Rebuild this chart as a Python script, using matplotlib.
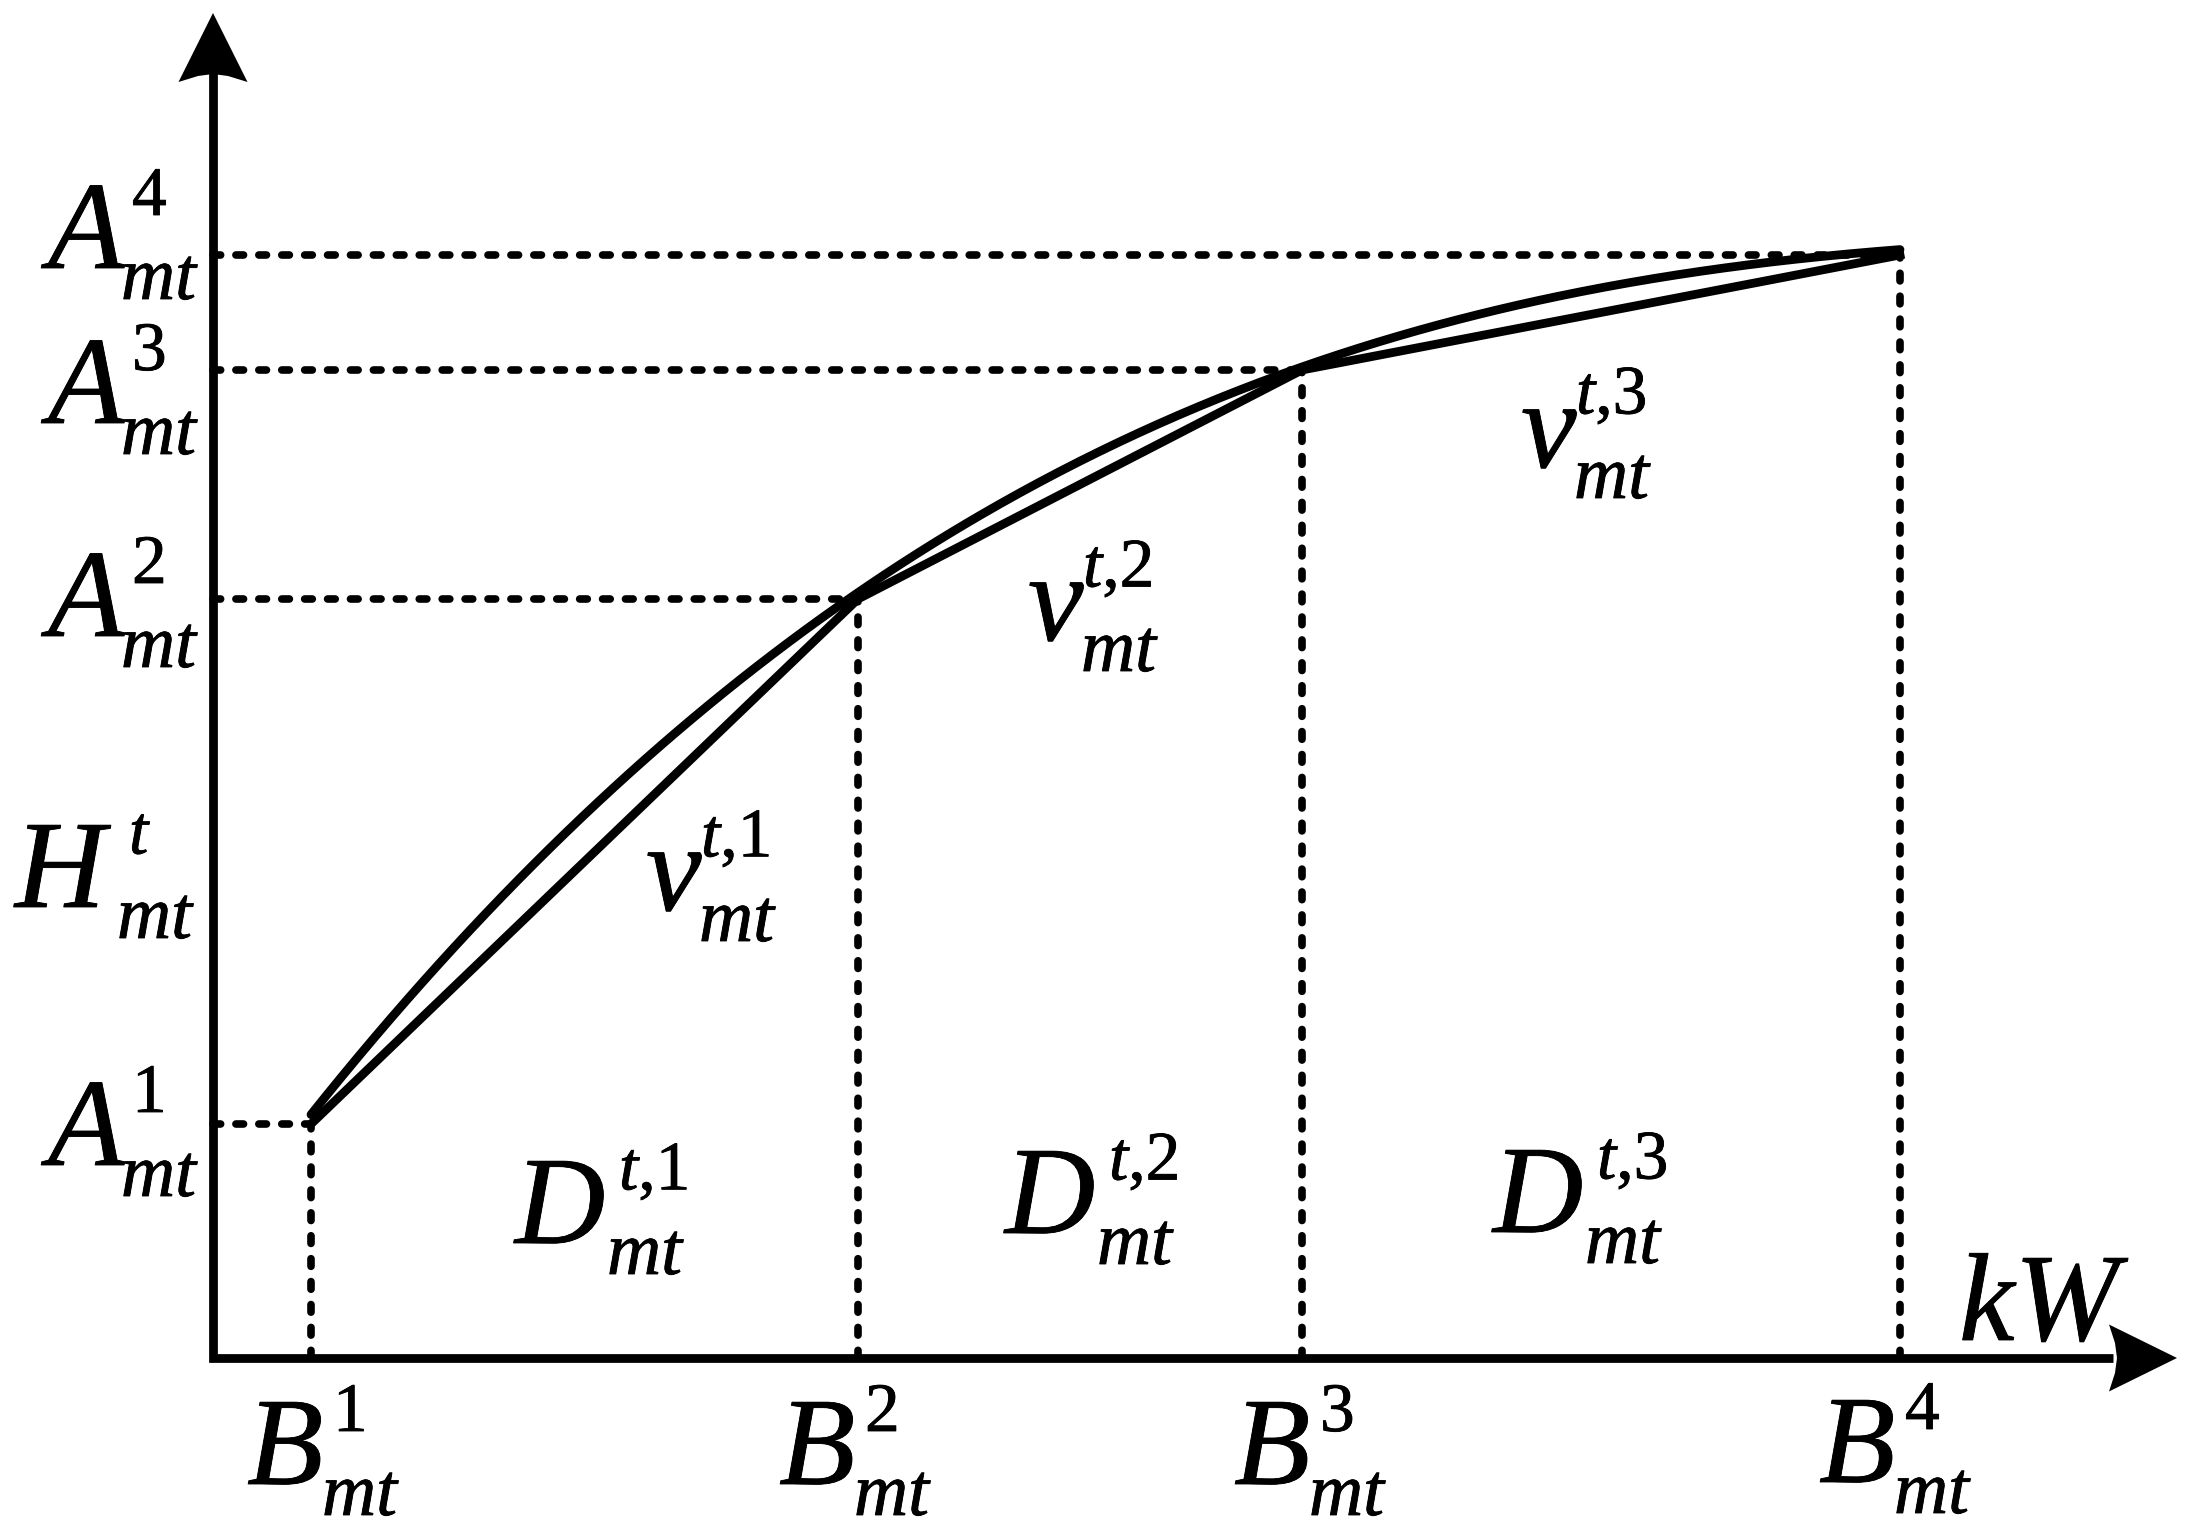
import numpy as np
import matplotlib
matplotlib.use("Agg")
import matplotlib.pyplot as plt
import matplotlib.patheffects as pe
from matplotlib.patches import Polygon

# break points of the piecewise linear approximation
B = [0.98, 6.45, 10.89, 16.87]
A = [2.34, 7.59, 9.88, 11.03]

# points
curve_x = [0.98, 2.87, 3.07, 4.30, 6.45, 8.07, 9.47, 10.89, 13.27, 14.67, 16.87]
curve_y = [2.34, 4.69, 4.89, 5.96, 7.59, 8.64, 9.29, 9.88, 10.65, 10.90, 11.03]

pt_idx = ["1", "2", "3", "4"]
seg_idx = ["1", "2", "3"]
sub_txt = "mt"
unit_txt = "kW"

plt.rcParams["mathtext.fontset"] = "custom"
plt.rcParams["mathtext.it"] = "Liberation Serif:italic"
plt.rcParams["mathtext.rm"] = "Liberation Serif"

W, H = 2195, 1535
ox, oy = 213, 1358  # origin in pixels

fig = plt.figure(figsize=(W / 100, H / 100), dpi=100)
ax = fig.add_axes([0, 0, 1, 1])
ax.set_xlim(-ox / 100, (W - ox) / 100)
ax.set_ylim(-(H - oy) / 100, oy / 100)
ax.axis("off")

LW = 6.3
dash = dict(color="k", lw=5.5, linestyle=(0, (1.0, 2.0)), dash_capstyle="round")

# dashed guides
for b, a in zip(B, A):
    ax.plot([0, b], [a, a], **dash)
    ax.plot([b, b], [0, a], **dash)

# chords and curve
ax.plot(B, A, "k", lw=LW, solid_joinstyle="round")
coef = np.polyfit(curve_x, curve_y, 3)
xs = np.linspace(B[0], B[-1], 400)
ax.plot(xs, np.polyval(coef, xs), "k", lw=LW, solid_capstyle="round")

# axes with arrow heads
ax.plot([0, 0, 19.0], [12.85, 0, 0], "k", lw=LW, solid_joinstyle="miter", solid_capstyle="butt")
ax.add_patch(Polygon([(0, 13.45), (0.345, 12.76), (0.15, 12.82), (0, 12.84),
                      (-0.15, 12.82), (-0.345, 12.76)], closed=True, color="k", lw=0))
ax.add_patch(Polygon([(19.64, 0), (18.96, 0.335), (19.02, 0.15), (19.04, 0),
                      (19.02, -0.15), (18.96, -0.335)], closed=True, color="k", lw=0))

FONT = "Liberation Serif"
bold = [pe.withStroke(linewidth=0.6, foreground="k")]
# letter -> (superscript dx, subscript dx) in pixels
shift = {"A": (84, 73), "B": (86, 75), "D": (104, 92), "v": (55, 53), "H": (114, 102)}


def label(base, sup, x_px, y_px):
    x = (x_px - ox) / 100
    y = (oy - y_px) / 100
    sdx, bdx = shift[base]
    ax.text(x, y, base, fontsize=90, style="italic", family=FONT, va="baseline", ha="left",
            path_effects=bold)
    ax.text(x + sdx / 100, y + 0.53, sup, fontsize=50, family=FONT, va="baseline", ha="left",
            path_effects=bold)
    ax.text(x + bdx / 100, y - 0.31, sub_txt, fontsize=54, style="italic", family=FONT,
            va="baseline", ha="left", path_effects=bold)


a_pos = [(48, 1165), (48, 636), (48, 423), (48, 268)]
b_pos = [(247, 1484), (779, 1484), (1234, 1484), (1819, 1482)]
d_pos = [(515, 1243), (1005, 1233), (1493, 1232)]
v_pos = [(646, 910), (1028, 640), (1521, 467)]

for i, (px, py) in zip(pt_idx, a_pos):
    label("A", i, px, py)
for i, (px, py) in zip(pt_idx, b_pos):
    label("B", i, px, py)
for i, (px, py) in zip(seg_idx, d_pos):
    label("D", "$t$," + i, px, py)
for i, (px, py) in zip(seg_idx, v_pos):
    label("v", "$t$," + i, px, py)
label("H", "$t$", 15, 907)

ax.text((1959 - ox) / 100, (oy - 1340) / 100, unit_txt, fontsize=90, style="italic",
        family=FONT, va="baseline", ha="left", path_effects=bold)

fig.savefig("out.png", dpi=100)
